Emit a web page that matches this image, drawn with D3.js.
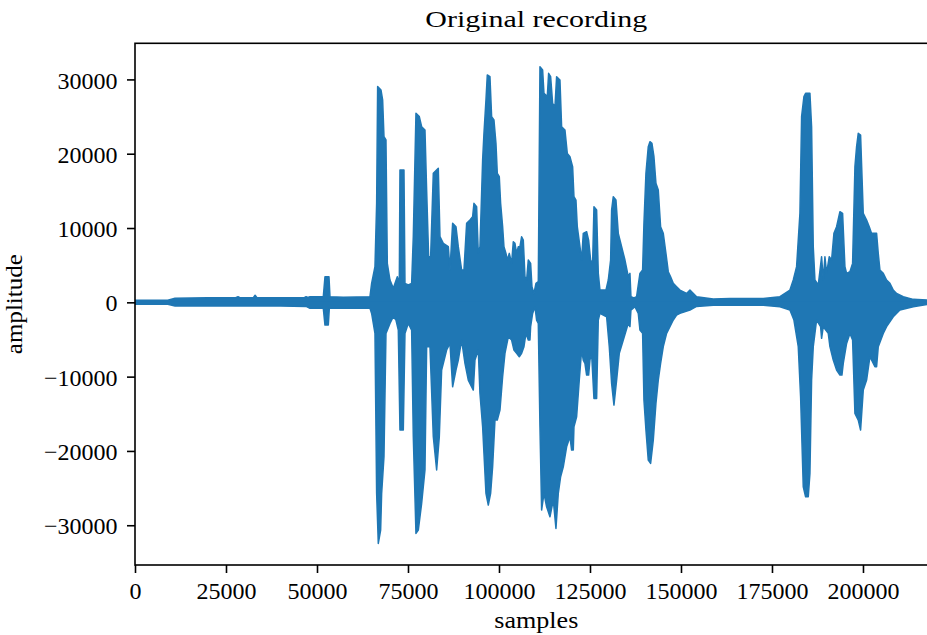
<!DOCTYPE html>
<html>
<head>
<meta charset="utf-8">
<script src="https://cdn.jsdelivr.net/npm/d3@7"></script>
<style>
  html, body { margin: 0; padding: 0; background: #fff; overflow: hidden; }
  svg { display: block; }
  text { font-family: "Liberation Serif", "Times New Roman", serif; fill: #000; }
</style>
</head>
<body>
<svg id="chart" width="927" height="635"></svg>
<script>
// Recording length (5 s at 44.1 kHz) and axis ticks
const nSamples = 220500;
const xTicks = [0, 25000, 50000, 75000, 100000, 125000, 150000, 175000, 200000];
const yTicks = [-30000, -20000, -10000, 0, 10000, 20000, 30000];
const yLimits = [-35350, 34860];

// Waveform envelope: positive peaks (sample index, amplitude)
const peakIdx = [0, 9000, 11000, 20000, 27500, 28300, 29000, 32500, 33000, 33500, 40000, 46500, 47000, 47500,
  48072, 51735, 52193, 53291, 53566, 57229, 64555, 65012, 65928, 66386, 66661, 67576, 68034, 68400, 68950, 69316,
  70049, 70964, 72063, 72613, 72796, 73895, 74169, 75085, 76001, 76459, 77191, 78107, 78748, 79664, 80122, 80671,
  81221, 81954, 83327, 83785, 84700, 86074, 86532, 87264, 88180, 88821, 89737, 90378, 91110, 92026, 92759,
  93124, 93856, 94314, 94772, 95505, 95871, 96420, 96787, 97519, 97977, 98618, 99167, 99534, 100083, 100449,
  100999, 101365, 101915, 102281, 102830, 103471, 103929, 104387, 104845, 105303, 105761, 106218, 106676, 107134,
  107592, 108050, 108691, 109057, 109606, 110156, 110797, 111255, 111987, 112354, 113269, 113636, 114185, 114734,
  115375, 115833, 116749, 117207, 118122, 118763, 119496, 120229, 120595, 121144, 121511, 122243, 122701, 123159,
  124075, 124624, 125174, 125723, 126089, 126822, 127280, 127737, 129386, 130027, 130668, 130942, 131400, 132133,
  132774, 133690, 134605, 135521,
  135977, 136252, 137076, 137808, 138724, 139457, 139823, 140372, 141013, 141471, 142021, 142570, 143119, 143760,
  144401, 145134, 145867, 146508, 147149, 147881, 148797, 149713, 151544, 152460, 154291, 158870, 163448, 172605,
  177184, 179931, 180847, 181762, 182678, 183136, 183777, 184235, 185425, 185883, 186341, 186799, 187715, 188630,
  189088, 189546, 190004, 190736, 191377, 192018, 192751, 193667, 194399, 195040, 195498, 196414, 197146, 197788,
  198245, 198703, 199344, 200077, 200992, 201725, 202366, 203739, 204197, 204655, 205571, 206486, 207402, 208318,
  209233, 211065, 213812, 217566, 220500];
const peakAmp = [270, 270, 550, 600, 600, 750, 600, 620, 950, 620, 600, 620, 750, 650,
  760, 760, 3450, 3450, 760, 700, 760, 2550, 4800, 13320, 29030, 28580, 27230, 22300, 21850, 5250,
  3000, 1880, 3450, 2550, 17810, 17810, 2550, 2330, 2550, 8840, 25440, 24990, 23640, 23190, 15120, 6140,
  6140, 17360, 18030, 8840, 7940, 7490, 4350, 10630, 10180, 7490, 4350, 4350, 10630, 11080, 11530,
  13320, 12870, 6590, 7490, 19150, 22740, 27230, 30600, 30370, 24990, 24540, 21400, 17360, 16910, 13320,
  10180, 7490, 6590, 5690, 6590, 5240, 8160, 7940, 6590, 7490, 7490, 8830, 8380, 3450,
  3000, 5690, 5240, 2100, 1200, 2550, 2780, 31720, 31270, 28130, 27680, 30820, 30370, 26780,
  26330, 30370, 29920, 23640, 23190, 20050, 19600, 18260, 14220, 13770, 10180, 7490, 5690, 9280,
  9510, 8380, 5690, 5240, 12870, 12420, 3900, 1650, 1650, 3000, 5690, 12420, 14220, 13770,
  9280, 7490, 5690, 3450,
  3900, 760, 600, 760, 3900, 4350, 10630, 17360, 20950, 21620, 21400, 19600, 16010, 15120,
  10180, 9280, 6590, 4120, 3450, 2550, 2100, 1650, 1200, 1650, 760, 450, 530, 530,
  760, 1650, 3000, 4800, 11970, 24990, 27680, 28130, 28130, 23640, 7490, 3000, 2330, 6140,
  3000, 6140, 3900, 6140, 5690, 9280, 10180, 12200, 11970, 4800, 3900, 4120, 5240, 18260,
  20950, 22740, 22520, 11970, 11080, 10180, 9280, 9280, 6590, 4350, 3900, 3000, 2550, 1650,
  1200, 760, 400, 300, 250];

// Waveform envelope: negative troughs (sample index, amplitude)
const troughIdx = [0, 9000, 11000, 20000, 30000, 40000, 47000,
  48072, 51735, 52193, 53108, 53383, 64555, 65012, 65928, 66386, 66844, 67485, 67760, 68400, 68950,
  70049, 70964, 71697, 72338, 72796, 73712, 74169, 75085, 76001, 76459, 77191, 77832, 78748, 79664, 80122,
  81038, 81954, 82869, 83602, 84243, 85616, 86532, 87264, 88180, 88821, 89737, 90653, 91568, 92942,
  93399, 94314, 94772, 95505, 95871, 96420, 97061, 97702, 98252, 98893, 99534, 100266, 100999, 101640,
  102556, 103471, 104112, 104845, 105577, 106218, 106859, 107409, 108050, 108508, 108691, 109240, 109881,
  110339, 110797, 111255, 111713, 112354, 113086, 114002, 114918, 115650, 116291, 116932, 117665, 118580,
  119496, 119954, 120412, 120595, 121327, 122060, 122701, 123159, 123617, 124075, 124624, 124991, 125448,
  126089, 126822, 127280, 127737, 129569, 130301, 130942, 131583, 132316, 133048, 134147, 135521,
  135977, 136252, 137351, 138266, 138724, 139457, 139823, 140372, 141013, 141654, 142387, 143119, 143760,
  144401, 145134, 146050, 146965, 147881, 148797, 149713, 152460, 154291, 158870, 172605, 177184, 179931,
  181030, 182220, 182861, 183594, 184235, 184967, 185425, 185883, 186341, 187257, 188356, 188630, 189088,
  190462, 190919, 191835, 192751, 193667, 194216, 194583, 195498, 196414, 197146, 197788, 198703, 199344,
  200077, 200992, 201908, 203281, 203739, 204197, 205571, 206486, 208318, 210149, 213812, 217566, 220500];
const troughAmp = [-270, -270, -480, -480, -480, -480, -550,
  -810, -810, -3060, -3060, -810, -810, -1490, -4180, -25720, -32450, -30650, -25720, -20780, -4180,
  -2830, -1930, -2380, -3730, -17190, -17190, -4180, -2830, -3730, -18090, -31100, -30650, -27060, -22570, -5970,
  -5970, -18090, -22570, -18090, -9110, -6420, -5520, -11360, -9110, -7770, -5080, -8220, -10460, -11810,
  -7770, -6420, -12260, -16740, -20330, -25720, -27290, -25720, -22130, -15850, -15850, -14500, -10010, -6870,
  -4630, -5080, -6420, -6870, -7320, -6870, -5970, -4180, -5080, -5080, -3280, -1490, -590,
  -2390, -2830, -16740, -27960, -25720, -27510, -28860, -26620, -30430, -25720, -23470, -22130, -19440,
  -18090, -19880, -19880, -16740, -15400, -10460, -6420, -7770, -8220, -9790, -9790, -7770, -6870,
  -12930, -12930, -2390, -1490, -1940, -5970, -10910, -13830, -10460, -6870, -5080, -2830,
  -3280, -1040, -590, -1490, -3730, -4180, -13150, -17190, -21230, -21680, -18540, -13600, -10460,
  -8220, -5970, -4180, -3280, -2380, -1710, -1490, -1040, -550, -400, -400, -590, -1040,
  -2380, -5970, -12710, -24820, -26170, -26170, -23030, -10460, -5970, -2380, -3280, -4850, -3280,
  -4180, -5970, -7770, -9120, -9790, -9790, -8220, -5530, -4180, -5080, -14950, -15850, -17190,
  -11810, -10460, -7320, -8670, -8670, -5970, -4180, -3280, -1940, -1040, -590, -300, -250];

const peaks = peakIdx.map((s, i) => ({ s, a: peakAmp[i] }));
const troughs = troughIdx.map((s, i) => ({ s, a: troughAmp[i] }));

// Axes geometry (right edge runs just past the page)
const plotLeft = 135, plotRight = 937.6, plotTop = 43.3, plotBottom = 565;
const svg = d3.select("#chart");

const x = d3.scaleLinear().domain([0, nSamples]).range([plotLeft, plotRight]);
const y = d3.scaleLinear().domain(yLimits).range([plotBottom, plotTop]);

const fmt = d => d < 0 ? "\u2212" + Math.abs(d) : String(d);

svg.append("defs").append("clipPath").attr("id", "plotClip")
  .append("rect").attr("x", plotLeft).attr("y", plotTop)
  .attr("width", plotRight - plotLeft).attr("height", plotBottom - plotTop);

const color = "#1f77b4";
const wave = svg.append("g").attr("clip-path", "url(#plotClip)");

const envelope = d3.area().x(d => x(d.s)).y0(y(0)).y1(d => y(d.a));

[peaks, troughs].forEach(data => {
  wave.append("path")
    .attr("d", envelope(data))
    .attr("fill", color)
    .attr("stroke", color)
    .attr("stroke-width", 1.5)
    .attr("stroke-linejoin", "round");
});

// Ticks
const tickLen = 8, lineW = 1.6;
const xAxis = d3.axisBottom(x).tickValues(xTicks).tickFormat(fmt).tickSize(tickLen);
const yAxis = d3.axisLeft(y).tickValues(yTicks).tickFormat(fmt).tickSize(tickLen).tickPadding(9.5);

const gx = svg.append("g").attr("transform", `translate(0,${plotBottom})`).call(xAxis);
const gy = svg.append("g").attr("transform", `translate(${plotLeft},0)`).call(yAxis);
[gx, gy].forEach(g => {
  g.select(".domain").remove();
  g.selectAll(".tick line").attr("stroke", "#000").attr("stroke-width", lineW);
  g.selectAll(".tick text")
    .attr("font-family", "Liberation Serif, serif")
    .attr("font-size", 24)
    .attr("fill", "#000");
});
gx.selectAll(".tick text").attr("dy", null).attr("y", 34);
gy.selectAll(".tick text").attr("dy", null).attr("y", 8.6);

// Spines
svg.append("rect")
  .attr("x", plotLeft).attr("y", plotTop)
  .attr("width", plotRight - plotLeft).attr("height", plotBottom - plotTop)
  .attr("fill", "none").attr("stroke", "#000").attr("stroke-width", lineW);

// Title and axis labels
const cx = (plotLeft + plotRight) / 2;
svg.append("text").attr("x", cx).attr("y", 27.3)
  .attr("text-anchor", "middle").attr("font-size", 24)
  .attr("textLength", 222).attr("lengthAdjust", "spacingAndGlyphs")
  .text("Original recording");

svg.append("text").attr("x", cx).attr("y", 628.3)
  .attr("text-anchor", "middle").attr("font-size", 24)
  .attr("textLength", 84).attr("lengthAdjust", "spacingAndGlyphs")
  .text("samples");

svg.append("text")
  .attr("transform", `translate(22,${(plotTop + plotBottom) / 2}) rotate(-90)`)
  .attr("text-anchor", "middle").attr("font-size", 24)
  .attr("textLength", 100).attr("lengthAdjust", "spacingAndGlyphs")
  .text("amplitude");
</script>
</body>
</html>
